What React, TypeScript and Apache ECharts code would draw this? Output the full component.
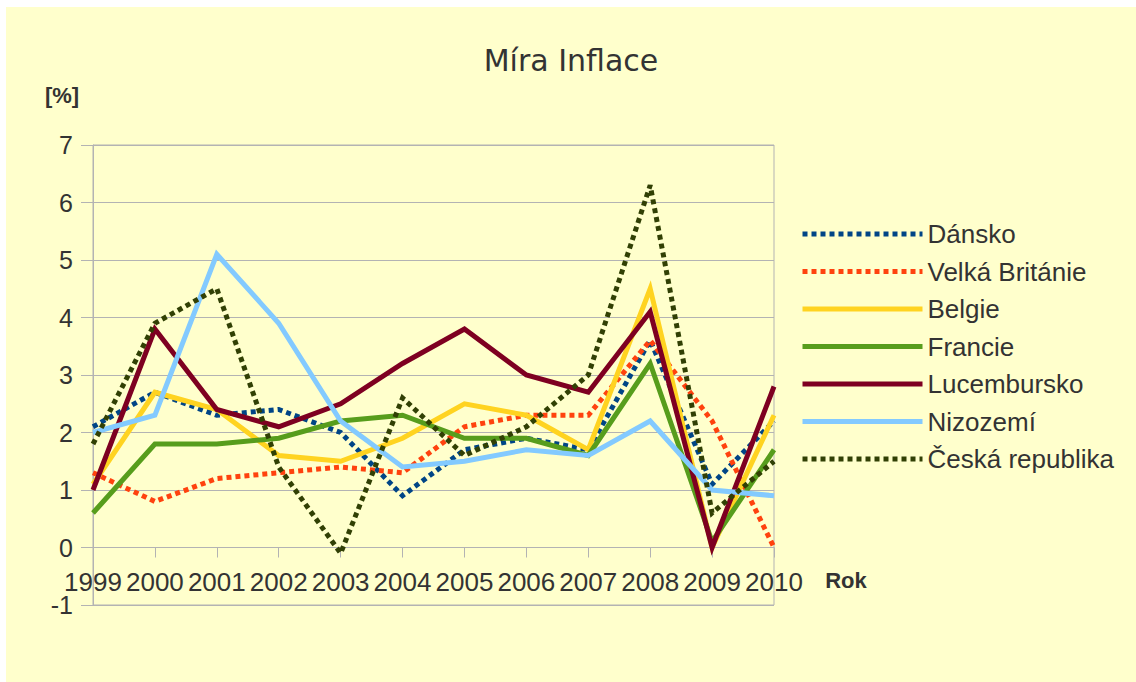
import React, { useEffect, useRef } from "react";
import * as echarts from "echarts";

const years = ["1999", "2000", "2001", "2002", "2003", "2004", "2005", "2006", "2007", "2008", "2009", "2010"];
const dansko = [2.1, 2.7, 2.3, 2.4, 2.0, 0.9, 1.7, 1.9, 1.7, 3.6, 1.1, 2.2];
const velkaBritanie = [1.3, 0.8, 1.2, 1.3, 1.4, 1.3, 2.1, 2.3, 2.3, 3.6, 2.2, 0];
const belgie = [1.1, 2.7, 2.4, 1.6, 1.5, 1.9, 2.5, 2.3, 1.7, 4.5, 0, 2.3];
const francie = [0.6, 1.8, 1.8, 1.9, 2.2, 2.3, 1.9, 1.9, 1.6, 3.2, 0.1, 1.7];
const lucembursko = [1.0, 3.8, 2.4, 2.1, 2.5, 3.2, 3.8, 3.0, 2.7, 4.1, 0, 2.8];
const nizozemi = [2.0, 2.3, 5.1, 3.9, 2.2, 1.4, 1.5, 1.7, 1.6, 2.2, 1.0, 0.9];
const ceskaRepublika = [1.8, 3.9, 4.5, 1.4, -0.1, 2.6, 1.6, 2.1, 3.0, 6.3, 0.6, 1.5];

const seriesDefs = [
  { name: "Dánsko", data: dansko, color: "#004586", dotted: true },
  { name: "Velká Británie", data: velkaBritanie, color: "#ff420e", dotted: true },
  { name: "Belgie", data: belgie, color: "#ffd320", dotted: false },
  { name: "Francie", data: francie, color: "#579d1c", dotted: false },
  { name: "Lucembursko", data: lucembursko, color: "#7e0021", dotted: false },
  { name: "Nizozemí", data: nizozemi, color: "#83caff", dotted: false },
  { name: "Česká republika", data: ceskaRepublika, color: "#314004", dotted: true },
];

const FONT = "'Liberation Sans', Arial, sans-serif";
const TITLE_FONT = "'DejaVu Sans', sans-serif";
const TEXT = "#333333";
const GRID = "#b3b3b3";
const Y_MIN = -1;
const Y_MAX = 7;
const GRID_H = 460;

export default function App() {
  const ref = useRef<HTMLDivElement>(null);
  useEffect(() => {
    if (!ref.current) return;
    const chart = echarts.init(ref.current, null, { renderer: "svg" });
    chart.setOption({
      animation: false,
      backgroundColor: "#ffffcc",
      textStyle: { fontFamily: FONT },
      title: {
        text: "Míra Inflace",
        left: "center",
        top: 38,
        padding: 0,
        textStyle: { fontSize: 30, fontWeight: "normal", color: TEXT, fontFamily: TITLE_FONT },
      },
      grid: {
        left: 87,
        top: 138,
        width: 681,
        height: GRID_H,
        show: true,
        borderColor: GRID,
        borderWidth: 1,
        backgroundColor: "transparent",
      },
      legend: {
        orient: "vertical",
        left: 794,
        top: 213,
        padding: 0,
        itemWidth: 120,
        itemHeight: 14,
        itemGap: 9.5,
        lineStyle: { width: 5 },
        itemStyle: { opacity: 0, color: "transparent", borderWidth: 0 },
        textStyle: { fontSize: 26, color: TEXT, fontFamily: FONT, lineHeight: 28 },
        data: seriesDefs.map((s) => s.name),
      },
      xAxis: {
        type: "category",
        data: years,
        boundaryGap: false,
        position: "bottom",
        offset: -(GRID_H / (Y_MAX - Y_MIN)) * (0 - Y_MIN),
        axisLine: { onZero: false, lineStyle: { color: GRID } },
        axisTick: { show: true, length: 10, lineStyle: { color: GRID }, alignWithLabel: true },
        axisLabel: { fontSize: 26, color: TEXT, fontFamily: FONT, margin: 21, interval: 0 },
        splitLine: { show: false },
      },
      yAxis: {
        type: "value",
        min: Y_MIN,
        max: Y_MAX,
        interval: 1,
        axisLine: { show: true, onZero: false, lineStyle: { color: GRID } },
        axisTick: { show: true, length: 12, lineStyle: { color: GRID } },
        axisLabel: { fontSize: 25, color: TEXT, fontFamily: FONT, margin: 20 },
        splitLine: { show: true, lineStyle: { color: GRID } },
      },
      graphic: [
        {
          type: "text",
          x: 56,
          y: 88,
          style: { text: "[%]", fontSize: 22, fontWeight: "bold", fill: TEXT, fontFamily: FONT, align: "center", verticalAlign: "middle" },
        },
        {
          type: "text",
          x: 840,
          y: 573,
          style: { text: "Rok", fontSize: 22, fontWeight: "bold", fill: TEXT, fontFamily: FONT, align: "center", verticalAlign: "middle" },
        },
      ],
      series: seriesDefs.map((s) => ({
        name: s.name,
        type: "line",
        data: s.data,
        symbol: "none",
        showSymbol: false,
        color: s.color,
        lineStyle: {
          color: s.color,
          width: 5,
          type: s.dotted ? [5, 4] : "solid",
          cap: "butt",
          join: "miter",
        },
        emphasis: { disabled: true },
      })),
    });
    return () => chart.dispose();
  }, []);
  return (
    <div
      ref={ref}
      style={{ position: "fixed", left: 6, top: 7, width: 1130, height: 675 }}
    />
  );
}
